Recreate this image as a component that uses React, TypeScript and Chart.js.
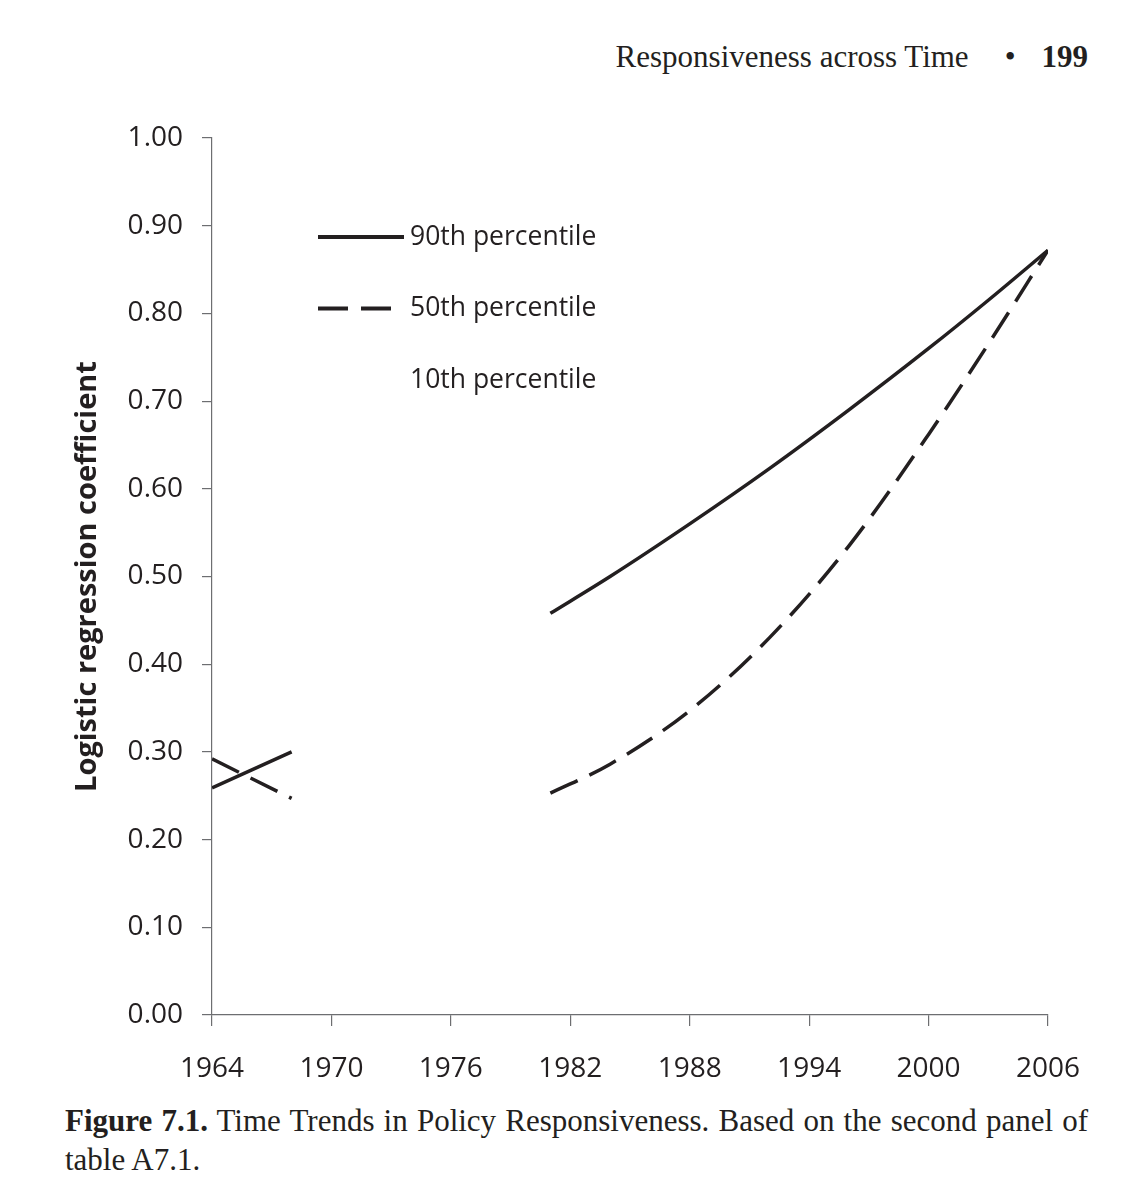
import { useEffect, useRef } from 'react';
import { Chart, registerables, type Plugin } from 'chart.js';

Chart.register(...registerables);

// values
const earlyYears = [1964, 1968];
const lateYears = [1981, 1984, 1988, 1992, 1996, 2000, 2003, 2006];
const p90Early = [0.259, 0.3];
const p90Late = [0.458, 0.5, 0.56, 0.623, 0.69, 0.76, 0.815, 0.872];
const p50Early = [0.292, 0.247];
const p50Late = [0.253, 0.286, 0.347, 0.43, 0.535, 0.662, 0.765, 0.872];
const p10Values: number[] = [];
const seriesLabels = ['90th percentile', '50th percentile', '10th percentile'];
const xTickLabels = [1964, 1970, 1976, 1982, 1988, 1994, 2000, 2006];
const yTickLabels = ['0.00', '0.10', '0.20', '0.30', '0.40', '0.50', '0.60', '0.70', '0.80', '0.90', '1.00'];
const gapYear = 1974;

const ink = '#231f20';
const axisColor = '#6d6e71';

type Pt = { x: number; y: number | null };

const toPoints = (early: number[], late: number[]): Pt[] => [
  ...earlyYears.map((x, i) => ({ x, y: early[i] })),
  { x: gapYear, y: null },
  ...lateYears.map((x, i) => ({ x, y: late[i] })),
];

const insideLegend: Plugin<'line'> = {
  id: 'insideLegend',
  afterDatasetsDraw(chart) {
    const { ctx, chartArea } = chart;
    ctx.save();
    ctx.font = '26.5px "Open Sans"';
    ctx.textBaseline = 'middle';
    ctx.fillStyle = ink;
    chart.data.datasets.forEach((ds, i) => {
      const y = chartArea.top + 99 + i * 71.5;
      const x0 = chartArea.left + 106;
      if ((ds.data as unknown[]).length) {
        ctx.beginPath();
        ctx.setLineDash((ds as { borderDash?: number[] }).borderDash ?? []);
        ctx.lineWidth = 3.8;
        ctx.strokeStyle = ink;
        ctx.moveTo(x0, y);
        ctx.lineTo(x0 + 86, y);
        ctx.stroke();
      }
      ctx.fillText(ds.label ?? '', chartArea.left + 198, y);
    });
    ctx.restore();
  },
};

function TrendChart() {
  const canvasRef = useRef<HTMLCanvasElement>(null);

  useEffect(() => {
    if (!canvasRef.current) return;
    Chart.defaults.font.family = '"Open Sans", sans-serif';
    Chart.defaults.color = ink;

    const chart = new Chart(canvasRef.current, {
      type: 'line',
      data: {
        datasets: [
          {
            label: seriesLabels[0],
            data: toPoints(p90Early, p90Late),
            borderColor: ink,
            borderWidth: 3.5,
          },
          {
            label: seriesLabels[1],
            data: toPoints(p50Early, p50Late),
            borderColor: ink,
            borderWidth: 3.5,
            borderDash: [30, 13],
          },
          {
            label: seriesLabels[2],
            data: p10Values,
            borderColor: ink,
            borderWidth: 3.5,
          },
        ],
      },
      plugins: [insideLegend],
      options: {
        animation: false,
        responsive: true,
        maintainAspectRatio: false,
        spanGaps: false,
        layout: { padding: { top: 28, right: 52, left: 0, bottom: 0 } },
        elements: {
          point: { radius: 0, hoverRadius: 0 },
          line: { cubicInterpolationMode: 'monotone', fill: false, borderCapStyle: 'butt' },
        },
        plugins: {
          legend: { display: false },
          tooltip: { enabled: false },
        },
        scales: {
          x: {
            type: 'linear',
            min: 1964,
            max: 2006,
            afterBuildTicks: (s) => {
              s.ticks = xTickLabels.map((v) => ({ value: v }));
            },
            afterFit: (s) => {
              s.height = 80;
              s.paddingLeft = 0;
              s.paddingRight = 0;
            },
            ticks: {
              callback: (_v, i) => String(xTickLabels[i]),
              font: { size: 28 },
              padding: 26,
              maxRotation: 0,
              color: ink,
            },
            grid: { drawOnChartArea: false, drawTicks: true, tickLength: 11, color: axisColor, lineWidth: 1.2 },
            border: { color: axisColor, width: 1.2 },
          },
          y: {
            min: 0,
            max: 1,
            afterBuildTicks: (s) => {
              s.ticks = yTickLabels.map((t) => ({ value: parseFloat(t) }));
            },
            afterFit: (s) => {
              s.width = 172;
              s.paddingTop = 0;
              s.paddingBottom = 0;
            },
            ticks: {
              callback: (_v, i) => yTickLabels[i],
              font: { size: 28 },
              padding: 19,
              color: ink,
            },
            grid: { drawOnChartArea: false, drawTicks: true, tickLength: 10, color: axisColor, lineWidth: 1.2 },
            border: { color: axisColor, width: 1.2 },
            title: {
              display: true,
              text: 'Logistic regression coefficient',
              font: { size: 29, weight: 'bold' },
              padding: { top: 30, bottom: 0 },
              color: ink,
            },
          },
        },
      },
    });

    return () => {
      chart.destroy();
    };
  }, []);

  return (
    <div style={{ position: 'absolute', left: 40, top: 110, width: 1060, height: 985 }}>
      <canvas ref={canvasRef} />
    </div>
  );
}

export default function App() {
  const serif = '"Liberation Serif", "Times New Roman", serif';
  return (
    <div style={{ position: 'absolute', left: 0, top: 0, width: 1135, height: 1200, background: '#fff', color: ink }}>
      <div
        style={{
          position: 'absolute',
          right: 47,
          top: 41,
          fontFamily: serif,
          fontSize: 31,
          lineHeight: '31px',
          whiteSpace: 'nowrap',
        }}
      >
        <span>Responsiveness across Time</span>
        <span style={{ margin: '0 26px 0 36px' }}>•</span>
        <span style={{ fontWeight: 'bold' }}>199</span>
      </div>
      <TrendChart />
      <div
        style={{
          position: 'absolute',
          left: 65,
          top: 1101,
          width: 1023,
          fontFamily: serif,
          fontSize: 31,
          lineHeight: '39px',
        }}
      >
        <div style={{ textAlign: 'justify', textAlignLast: 'justify', whiteSpace: 'nowrap' }}>
          <b>Figure 7.1.</b> Time Trends in Policy Responsiveness. Based on the second panel of
        </div>
        <div>table A7.1.</div>
      </div>
    </div>
  );
}
